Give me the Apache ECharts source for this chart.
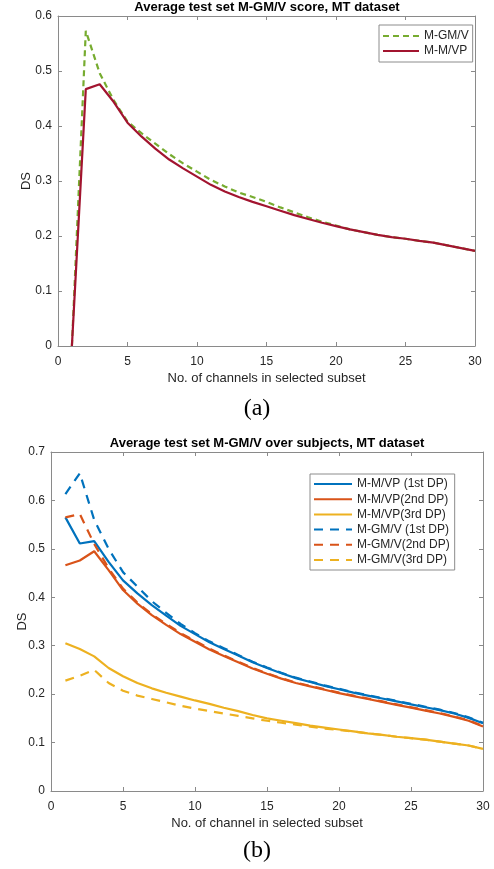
<!DOCTYPE html>
<html><head><meta charset="utf-8">
<script src="https://cdn.jsdelivr.net/npm/echarts@6/dist/echarts.min.js"></script>
<style>html,body{margin:0;padding:0;background:#fff}#c{width:494px;height:869px}</style>
</head><body><div id="c"></div>
<script>
// ---- data ----
const channels = [1,2,3,4,5,6,7,8,9,10,11,12,13,14,15,16,17,18,19,20,21,22,23,24,25,26,27,28,29,30];
// (a) top chart
const topMGMV = [0,0.573,0.496,0.447,0.408,0.387,0.368,0.349,0.332,0.317,0.302,0.290,0.279,0.271,0.262,0.252,0.243,0.234,0.226,0.219,0.212,0.207,0.202,0.198,0.195,0.191,0.188,0.183,0.178,0.173];
const topMMVP = [0,0.467,0.476,0.444,0.406,0.381,0.359,0.339,0.323,0.308,0.293,0.281,0.271,0.262,0.254,0.246,0.238,0.231,0.224,0.218,0.212,0.207,0.202,0.198,0.195,0.191,0.188,0.183,0.178,0.173];
// (b) bottom chart
const mmvp1 = [0.565,0.511,0.516,0.473,0.435,0.408,0.384,0.362,0.341,0.324,0.307,0.293,0.280,0.266,0.254,0.243,0.233,0.225,0.217,0.210,0.203,0.197,0.191,0.185,0.179,0.173,0.167,0.160,0.151,0.140];
const mmvp2 = [0.466,0.476,0.495,0.456,0.415,0.387,0.363,0.343,0.324,0.308,0.292,0.279,0.266,0.253,0.242,0.232,0.223,0.216,0.209,0.202,0.196,0.190,0.184,0.178,0.172,0.166,0.160,0.153,0.145,0.133];
const mmvp3 = [0.305,0.293,0.278,0.254,0.237,0.223,0.212,0.203,0.195,0.187,0.180,0.172,0.165,0.157,0.150,0.145,0.140,0.135,0.131,0.127,0.123,0.119,0.116,0.112,0.109,0.106,0.102,0.098,0.094,0.087];
const mgmv1 = [0.613,0.656,0.560,0.500,0.452,0.422,0.392,0.368,0.345,0.326,0.309,0.295,0.281,0.267,0.255,0.244,0.234,0.226,0.218,0.211,0.204,0.198,0.192,0.186,0.180,0.174,0.168,0.161,0.152,0.141];
const mgmv2 = [0.565,0.572,0.510,0.460,0.418,0.389,0.365,0.345,0.326,0.310,0.294,0.280,0.267,0.254,0.243,0.233,0.224,0.217,0.210,0.203,0.197,0.191,0.185,0.179,0.173,0.167,0.161,0.154,0.146,0.134];
const mgmv3 = [0.228,0.238,0.250,0.223,0.207,0.197,0.190,0.183,0.176,0.170,0.165,0.160,0.155,0.150,0.145,0.141,0.137,0.133,0.129,0.126,0.123,0.119,0.116,0.112,0.109,0.106,0.102,0.098,0.094,0.087];

// ---- styling ----
const FF = '"Liberation Sans", Arial, sans-serif';
const AX = '#8a8a8a';
const TXT = '#262626';
const pairs = ys => channels.map((x,i)=>[x, ys[i]]);

function xMain(gi, name){
  return {type:'value', gridIndex:gi, min:0, max:30, interval:5, position:'bottom',
    name:name, nameLocation:'middle', nameGap:26, nameMoveOverlap:false,
    nameTextStyle:{fontSize:13, color:TXT, fontFamily:FF},
    axisLine:{show:true, onZero:false, lineStyle:{color:AX, width:1}},
    axisTick:{show:true, inside:true, length:4, lineStyle:{color:AX}},
    axisLabel:{fontSize:12, color:TXT, fontFamily:FF, margin:10},
    splitLine:{show:false}};
}
function xBox(gi){
  return {type:'value', gridIndex:gi, min:0, max:30, interval:5, position:'top',
    axisLine:{show:true, onZero:false, lineStyle:{color:AX, width:1}},
    axisTick:{show:true, inside:true, length:4, lineStyle:{color:AX}},
    axisLabel:{show:false}, splitLine:{show:false}};
}
function yMain(gi, max, gap){
  return {type:'value', gridIndex:gi, min:0, max:max, interval:0.1, position:'left',
    name:'DS', nameLocation:'middle', nameGap:gap, nameMoveOverlap:false,
    nameTextStyle:{fontSize:13, color:TXT, fontFamily:FF},
    axisLine:{show:true, onZero:false, lineStyle:{color:AX, width:1}},
    axisTick:{show:true, inside:true, length:4, lineStyle:{color:AX}},
    axisLabel:{fontSize:12, color:TXT, fontFamily:FF, margin:6,
      formatter: v => String(Math.round(v*10)/10)},
    splitLine:{show:false}};
}
function yBox(gi, max){
  return {type:'value', gridIndex:gi, min:0, max:max, interval:0.1, position:'right',
    axisLine:{show:true, onZero:false, lineStyle:{color:AX, width:1}},
    axisTick:{show:true, inside:true, length:4, lineStyle:{color:AX}},
    axisLabel:{show:false}, splitLine:{show:false}};
}
function line(name, xi, yi, data, color, dashed, dash){
  return {name:name, type:'line', xAxisIndex:xi, yAxisIndex:yi, data:pairs(data),
    symbol:'none', showSymbol:false, smooth:false, animation:false,
    color:color,
    lineStyle:{color:color, width:2.2, type: dashed ? dash : 'solid'}};
}

const BLUE='#0072BD', ORANGE='#D95319', YELLOW='#EDB120', GREEN='#77AC30', RED='#A2142F';

const chart = echarts.init(document.getElementById('c'), null, {renderer:'canvas'});
chart.setOption({
  backgroundColor:'#fff',
  animation:false,
  grid:[
    {left:58, right:19, top:16, bottom:523},
    {left:51, right:11, top:452, bottom:78}
  ],
  xAxis:[xMain(0,'No. of channels in selected subset'), xBox(0), xMain(1,'No. of channel in selected subset'), xBox(1)],
  yAxis:[yMain(0,0.6,25), yBox(0,0.6), yMain(1,0.7,22), yBox(1,0.7)],
  legend:[
    {orient:'vertical', left:379, top:25, selectedMode:false,
     data:['M-GM/V','M-M/VP'], itemWidth:36, itemHeight:12, itemGap:3,
     padding:[5,4,5,3], borderColor:'#8c8c8c', borderWidth:1, backgroundColor:'#fff',
     itemStyle:{opacity:0},
     textStyle:{fontSize:12, color:TXT, fontFamily:FF}},
    {orient:'vertical', left:310, top:474, selectedMode:false,
     data:['M-M/VP (1st DP)','M-M/VP(2nd DP)','M-M/VP(3rd DP)','M-GM/V (1st DP)','M-GM/V(2nd DP)','M-GM/V(3rd DP)'],
     itemWidth:38, itemHeight:12, itemGap:3.2,
     padding:[4,5,4,3], borderColor:'#8c8c8c', borderWidth:1, backgroundColor:'#fff',
     itemStyle:{opacity:0},
     textStyle:{fontSize:12, color:TXT, fontFamily:FF}}
  ],
  series:[
    line('M-GM/V', 0, 0, topMGMV, GREEN, true, [6,4]),
    line('M-M/VP', 0, 0, topMMVP, RED, false),
    line('M-M/VP (1st DP)', 2, 2, mmvp1, BLUE, false),
    line('M-M/VP(2nd DP)', 2, 2, mmvp2, ORANGE, false),
    line('M-M/VP(3rd DP)', 2, 2, mmvp3, YELLOW, false),
    line('M-GM/V (1st DP)', 2, 2, mgmv1, BLUE, true, [9,7]),
    line('M-GM/V(2nd DP)', 2, 2, mgmv2, ORANGE, true, [9,7]),
    line('M-GM/V(3rd DP)', 2, 2, mgmv3, YELLOW, true, [9,7])
  ],
  graphic:[
    {type:'text', x:267, y:7, style:{text:'Average test set M-GM/V score, MT dataset', textAlign:'center', textVerticalAlign:'middle', font:'bold 13px "Liberation Sans", Arial, sans-serif', fill:'#000'}},
    {type:'text', x:267, y:443, style:{text:'Average test set M-GM/V over subjects, MT dataset', textAlign:'center', textVerticalAlign:'middle', font:'bold 13px "Liberation Sans", Arial, sans-serif', fill:'#000'}},
    {type:'text', x:257, y:409, style:{text:'(a)', textAlign:'center', textVerticalAlign:'middle', font:'24px "Liberation Serif", "Times New Roman", serif', fill:'#000'}},
    {type:'text', x:257, y:851, style:{text:'(b)', textAlign:'center', textVerticalAlign:'middle', font:'24px "Liberation Serif", "Times New Roman", serif', fill:'#000'}}
  ]
});
</script></body></html>
